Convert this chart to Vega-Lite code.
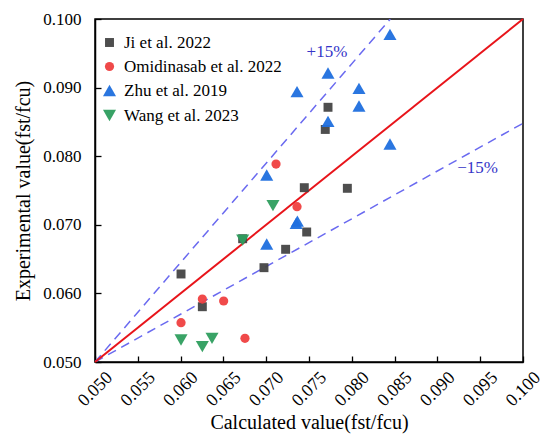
{
  "$schema": "https://vega.github.io/schema/vega-lite/v6.json",
  "width": 428,
  "height": 343,
  "autosize": {"type": "none"},
  "padding": {"left": 95, "top": 19, "right": 27, "bottom": 80},
  "background": "white",
  "config": {
    "view": {"stroke": "black", "strokeWidth": 1.5},
    "font": "Liberation Serif",
    "legend": {"labelFont": "Liberation Serif"},
    "axis": {
      "grid": false,
      "domainColor": "black",
      "domainWidth": 1.5,
      "tickColor": "black",
      "tickWidth": 1.3,
      "labelColor": "black",
      "labelFont": "Liberation Serif",
      "titleFont": "Liberation Serif",
      "titleFontSize": 20,
      "titleFontWeight": "normal",
      "titleColor": "black"
    }
  },
  "datasets": {
    "points": [
      {"study": "Ji et al. 2022", "calc": 0.07445, "exp": 0.07541},
      {"study": "Ji et al. 2022", "calc": 0.07722, "exp": 0.08713},
      {"study": "Ji et al. 2022", "calc": 0.0769, "exp": 0.0839},
      {"study": "Ji et al. 2022", "calc": 0.07948, "exp": 0.07532},
      {"study": "Ji et al. 2022", "calc": 0.07473, "exp": 0.06895},
      {"study": "Ji et al. 2022", "calc": 0.06725, "exp": 0.06797},
      {"study": "Ji et al. 2022", "calc": 0.07227, "exp": 0.06643},
      {"study": "Ji et al. 2022", "calc": 0.06974, "exp": 0.06375},
      {"study": "Ji et al. 2022", "calc": 0.06005, "exp": 0.06283},
      {"study": "Ji et al. 2022", "calc": 0.06254, "exp": 0.05806},
      {"study": "Omidinasab et al. 2022", "calc": 0.07115, "exp": 0.07886},
      {"study": "Omidinasab et al. 2022", "calc": 0.0736, "exp": 0.07264},
      {"study": "Omidinasab et al. 2022", "calc": 0.06254, "exp": 0.05918},
      {"study": "Omidinasab et al. 2022", "calc": 0.06503, "exp": 0.05889},
      {"study": "Omidinasab et al. 2022", "calc": 0.06005, "exp": 0.05573},
      {"study": "Omidinasab et al. 2022", "calc": 0.06752, "exp": 0.05345},
      {"study": "Zhu et al. 2019", "calc": 0.07006, "exp": 0.07726},
      {"study": "Zhu et al. 2019", "calc": 0.0736, "exp": 0.0894},
      {"study": "Zhu et al. 2019", "calc": 0.07722, "exp": 0.09213},
      {"study": "Zhu et al. 2019", "calc": 0.07722, "exp": 0.08508},
      {"study": "Zhu et al. 2019", "calc": 0.08446, "exp": 0.09777},
      {"study": "Zhu et al. 2019", "calc": 0.08084, "exp": 0.0899},
      {"study": "Zhu et al. 2019", "calc": 0.08084, "exp": 0.08732},
      {"study": "Zhu et al. 2019", "calc": 0.08446, "exp": 0.08178},
      {"study": "Zhu et al. 2019", "calc": 0.07364, "exp": 0.07055},
      {"study": "Zhu et al. 2019", "calc": 0.0735, "exp": 0.0702},
      {"study": "Zhu et al. 2019", "calc": 0.07006, "exp": 0.0672},
      {"study": "Wang et al. 2023", "calc": 0.07079, "exp": 0.07279},
      {"study": "Wang et al. 2023", "calc": 0.06725, "exp": 0.06778},
      {"study": "Wang et al. 2023", "calc": 0.06005, "exp": 0.05321},
      {"study": "Wang et al. 2023", "calc": 0.06254, "exp": 0.05223},
      {"study": "Wang et al. 2023", "calc": 0.06367, "exp": 0.05345}
    ],
    "ideal": [
      {"calc": 0.05, "exp": 0.05},
      {"calc": 0.1, "exp": 0.1}
    ],
    "bounds": [
      {"bound": "upper", "calc": 0.05, "exp": 0.05},
      {"bound": "upper", "calc": 0.0845, "exp": 0.1},
      {"bound": "lower", "calc": 0.05, "exp": 0.05},
      {"bound": "lower", "calc": 0.1, "exp": 0.0848}
    ],
    "labels": [
      {"text": "+15%", "calc": 0.0771, "exp": 0.0952},
      {"text": "\u221215%", "calc": 0.0947, "exp": 0.0783}
    ]
  },
  "layer": [
    {
      "data": {"name": "bounds"},
      "mark": {"type": "line", "color": "#6a6af0", "strokeWidth": 1.5, "strokeDash": [9, 6], "clip": true},
      "encoding": {
        "x": {
          "field": "calc",
          "type": "quantitative",
          "scale": {"domain": [0.05, 0.1], "nice": false, "zero": false},
          "axis": {
            "title": "Calculated value(fst/fcu)",
            "titlePadding": 3,
            "values": [0.05, 0.0525, 0.055, 0.0575, 0.06, 0.0625, 0.065, 0.0675, 0.07, 0.0725, 0.075, 0.0775, 0.08, 0.0825, 0.085, 0.0875, 0.09, 0.0925, 0.095, 0.0975, 0.1],
            "labelExpr": "round(datum.value * 400) % 2 == 0 ? format(datum.value, '.3f') : ''",
            "labelFontSize": 18,
            "labelAngle": -45,
            "labelAlign": "center",
            "labelBaseline": "middle",
            "labelPadding": 33,
            "labelOverlap": false,
            "tickSize": {"condition": {"test": "round(datum.value * 400) % 2 == 1", "value": -3}, "value": -6}
          }
        },
        "y": {
          "field": "exp",
          "type": "quantitative",
          "scale": {"domain": [0.05, 0.1], "nice": false, "zero": false},
          "axis": {
            "title": "Experimental value(fst/fcu)",
            "titlePadding": 9,
            "values": [0.05, 0.0525, 0.055, 0.0575, 0.06, 0.0625, 0.065, 0.0675, 0.07, 0.0725, 0.075, 0.0775, 0.08, 0.0825, 0.085, 0.0875, 0.09, 0.0925, 0.095, 0.0975, 0.1],
            "labelExpr": "round(datum.value * 400) % 2 == 0 ? format(datum.value, '.3f') : ''",
            "labelFontSize": 17,
            "labelPadding": 20,
            "labelOverlap": false,
            "tickSize": {"condition": {"test": "round(datum.value * 400) % 2 == 1", "value": -3}, "value": -6}
          }
        },
        "detail": {"field": "bound"}
      }
    },
    {
      "data": {"name": "ideal"},
      "mark": {"type": "line", "color": "#e8141a", "strokeWidth": 2},
      "encoding": {
        "x": {"field": "calc", "type": "quantitative"},
        "y": {"field": "exp", "type": "quantitative"}
      }
    },
    {
      "data": {"name": "labels"},
      "mark": {"type": "text", "color": "#3535c8", "fontSize": 17, "font": "Liberation Serif"},
      "encoding": {
        "x": {"field": "calc", "type": "quantitative"},
        "y": {"field": "exp", "type": "quantitative"},
        "text": {"field": "text"}
      }
    },
    {
      "data": {"name": "points"},
      "mark": {"type": "point", "filled": true, "opacity": 0.95},
      "encoding": {
        "x": {"field": "calc", "type": "quantitative"},
        "y": {"field": "exp", "type": "quantitative"},
        "color": {
          "field": "study",
          "type": "nominal",
          "scale": {
            "domain": ["Ji et al. 2022", "Omidinasab et al. 2022", "Zhu et al. 2019", "Wang et al. 2023"],
            "range": ["#454545", "#ef4040", "#1f6fde", "#2e9e5e"]
          },
          "legend": {
            "title": null,
            "orient": "none",
            "legendX": 6,
            "legendY": 15,
            "labelFont": "Liberation Serif",
            "labelFontSize": 17,
            "labelColor": "black",
            "rowPadding": 6,
            "labelOffset": 6,
            "symbolOpacity": 0.95
          }
        },
        "shape": {
          "field": "study",
          "type": "nominal",
          "scale": {
            "domain": ["Ji et al. 2022", "Omidinasab et al. 2022", "Zhu et al. 2019", "Wang et al. 2023"],
            "range": ["square", "circle", "triangle-up", "triangle-down"]
          },
          "legend": {
            "title": null,
            "orient": "none",
            "legendX": 6,
            "legendY": 15,
            "labelFont": "Liberation Serif",
            "labelFontSize": 17,
            "labelColor": "black",
            "rowPadding": 6,
            "labelOffset": 6,
            "symbolOpacity": 0.95
          }
        },
        "size": {
          "field": "study",
          "type": "nominal",
          "scale": {
            "type": "ordinal",
            "domain": ["Ji et al. 2022", "Omidinasab et al. 2022", "Zhu et al. 2019", "Wang et al. 2023"],
            "range": [80, 85, 170, 170]
          },
          "legend": {
            "title": null,
            "orient": "none",
            "legendX": 6,
            "legendY": 15,
            "labelFont": "Liberation Serif",
            "labelFontSize": 17,
            "labelColor": "black",
            "rowPadding": 6,
            "labelOffset": 6,
            "symbolOpacity": 0.95
          }
        }
      }
    }
  ]
}
